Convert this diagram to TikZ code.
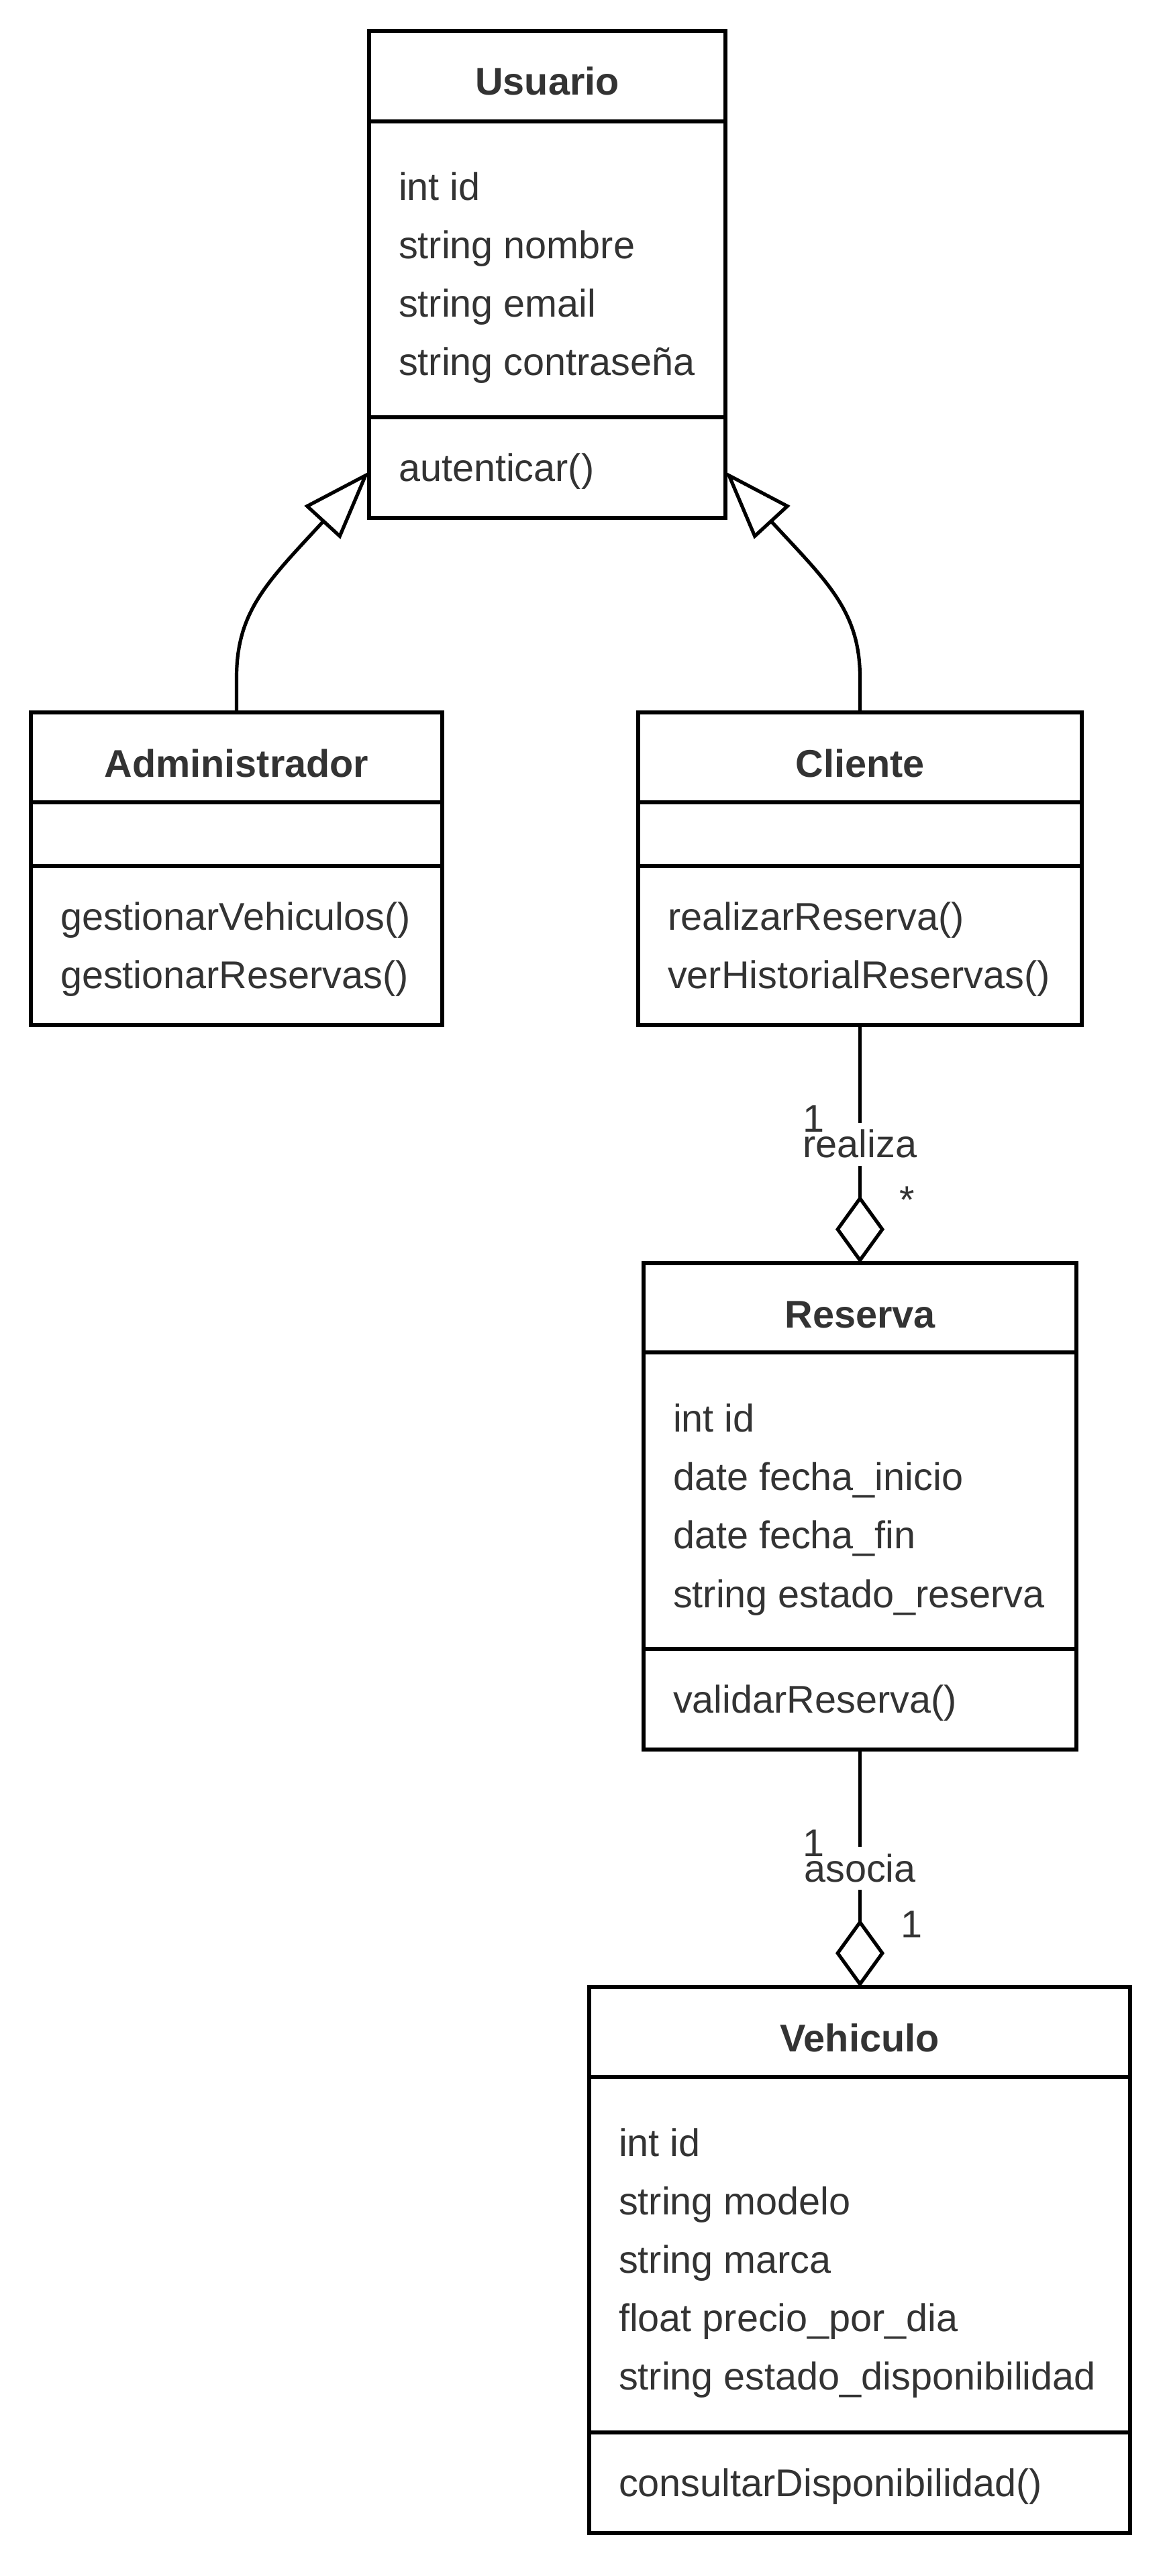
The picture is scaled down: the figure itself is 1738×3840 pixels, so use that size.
\documentclass[tikz,border=0pt]{standalone}
\usepackage{fontspec}
\setmainfont{Liberation Sans}
\usetikzlibrary{arrows.meta,calc}
\definecolor{txt}{HTML}{333333}
\begin{document}
\begin{tikzpicture}[x=0.25pt,y=-0.25pt,
  every node/.style={font=\fontsize{14.4pt}{17pt}\selectfont, text=txt, inner sep=0pt, outer sep=0pt},
  classbox/.style={draw=black, line width=1.3pt, fill=white},
  clstitle/.style={anchor=base, font=\fontsize{14.4pt}{17pt}\selectfont\bfseries},
  clsmember/.style={anchor=base west},
  sepline/.style={draw=black, line width=1.3pt},
  gen/.style={draw=black, line width=1.3pt, -{Triangle[open,length=25.75pt,width=18pt]}},
  agg/.style={draw=black, line width=1.3pt, -{Diamond[open,length=25.25pt,width=18.25pt]}},
  lbl/.style={fill=white, text height=13pt, text depth=3pt},
  mult/.style={anchor=base}]
\useasboundingbox[fill=white] (0,0) rectangle (1738,3840);

% Usuario
\node[classbox, minimum width=132.75pt, minimum height=181.5pt] (usuario) at (815.5,409) {};
\draw[sepline] (550,181) -- (1081,181);
\draw[sepline] (550,622) -- (1081,622);
\node[clstitle] (usuarioT) at (815.5,142) {Usuario};
\node[clsmember] (u1) at (594,299) {int id};
\node[clsmember] (u2) at (594,386) {string nombre};
\node[clsmember] (u3) at (594,473) {string email};
\node[clsmember] (u4) at (594,560) {string contraseña};
\node[clsmember] (u5) at (594,717) {autenticar()};

% Administrador
\node[classbox, minimum width=153.25pt, minimum height=116.5pt] (admin) at (352.5,1295) {};
\draw[sepline] (46,1196) -- (659,1196);
\draw[sepline] (46,1291) -- (659,1291);
\node[clstitle] (adminT) at (352.5,1158) {Administrador};
\node[clsmember] (a1) at (90,1386) {gestionarVehiculos()};
\node[clsmember] (a2) at (90,1473) {gestionarReservas()};

% Cliente
\node[classbox, minimum width=165.25pt, minimum height=116.5pt] (cliente) at (1281.5,1295) {};
\draw[sepline] (951,1196) -- (1612,1196);
\draw[sepline] (951,1291) -- (1612,1291);
\node[clstitle] (clienteT) at (1281.5,1158) {Cliente};
\node[clsmember] (c1) at (995,1386) {realizarReserva()};
\node[clsmember] (c2) at (995,1473) {verHistorialReservas()};

% Reserva
\node[classbox, minimum width=161.25pt, minimum height=181.25pt] (reserva) at (1281.5,2245.5) {};
\draw[sepline] (959,2016) -- (1604,2016);
\draw[sepline] (959,2458) -- (1604,2458);
\node[clstitle] (reservaT) at (1281.5,1979) {Reserva};
\node[clsmember] (r1) at (1003,2134) {int id};
\node[clsmember] (r2) at (1003,2221) {date fecha\_inicio};
\node[clsmember] (r3) at (1003,2308) {date fecha\_fin};
\node[clsmember] (r4) at (1003,2396) {string estado\_reserva};
\node[clsmember] (r5) at (1003,2553) {validarReserva()};

% Vehiculo
\node[classbox, minimum width=201.5pt, minimum height=203.5pt] (vehiculo) at (1281,3369) {};
\draw[sepline] (878,3096) -- (1684,3096);
\draw[sepline] (878,3626) -- (1684,3626);
\node[clstitle] (vehiculoT) at (1281,3058) {Vehiculo};
\node[clsmember] (v1) at (922,3214) {int id};
\node[clsmember] (v2) at (922,3301) {string modelo};
\node[clsmember] (v3) at (922,3388) {string marca};
\node[clsmember] (v4) at (922,3475) {float precio\_por\_dia};
\node[clsmember] (v5) at (922,3562) {string estado\_disponibilidad};
\node[clsmember] (v6) at (922,3721) {consultarDisponibilidad()};

% Generalizations
\draw[gen] (admin.north) -- (352.5,1010) .. controls (352.5,910) and (400,866) .. ($(usuario.south west)+(0,-69)$);
\draw[gen] (cliente.north) -- (1281.5,1010) .. controls (1281.5,910) and (1231,866) .. ($(usuario.south east)+(0,-69)$);

% Aggregations
\draw[agg] (cliente.south) -- (reserva.north) node[midway, lbl] (lblR) {realiza};
\draw[agg] (reserva.south) -- (reserva.south |- vehiculo.north) node[midway, lbl] (lblA) {asocia};

% Multiplicities
\node[mult] (m1) at (1212,1687) {1};
\node[mult] (m2) at (1352,1808) {*};
\node[mult] (m3) at (1212,2767) {1};
\node[mult] (m4) at (1358,2888) {1};
\end{tikzpicture}
\end{document}
